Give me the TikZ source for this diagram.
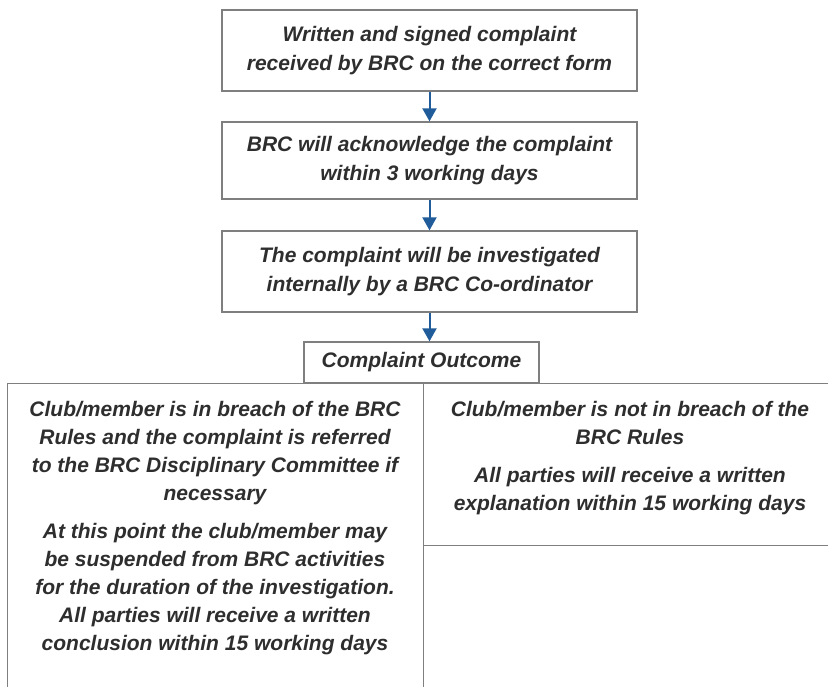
\documentclass[tikz,border=0pt]{standalone}
\usepackage{fontspec}
\setmainfont{Liberation Sans}
\usetikzlibrary{arrows.meta}
\definecolor{txtc}{HTML}{2E2E2E}
\definecolor{edgec}{HTML}{7F7F7F}
\definecolor{arrc}{HTML}{1F5C99}
\begin{document}
\begin{tikzpicture}[x=1pt,y=-1pt,
  boxfont/.style={font=\fontsize{21}{29}\selectfont\bfseries\itshape},
  lowfont/.style={font=\fontsize{21}{28}\selectfont\bfseries\itshape},
  box/.style={draw=edgec,line width=1.3pt,fill=white,inner sep=0pt,align=center,text=txtc,boxfont},
  txt/.style={inner sep=0pt,align=center,text=txtc,lowfont},
  arr/.style={draw=arrc,line width=2pt,-{Triangle[width=14pt,length=13pt]}}]
\useasboundingbox (0,0) rectangle (828,687);
\clip (0,0) rectangle (828,687);
\fill[white] (0,0) rectangle (828,687);

\node[box,minimum width=415pt,minimum height=81pt] (b1) at (429.5,50.5)
  {Written and signed complaint\\received by BRC on the correct form};
\node[box,minimum width=415pt,minimum height=77pt] (b2) at (429.5,160.5)
  {BRC will acknowledge the complaint\\within 3 working days};
\node[box,minimum width=415pt,minimum height=81pt] (b3) at (429.5,271.5)
  {The complaint will be investigated\\internally by a BRC Co-ordinator};
\node[box,minimum width=235pt,minimum height=41pt] (out) at (421.5,362.5)
  {Complaint Outcome};

\node[box,minimum width=416pt,minimum height=162pt,anchor=north west] (rb) at (422,383) {};
\node[box,minimum width=416pt,minimum height=340pt,anchor=north west] (lb) at (7,383) {};

\node[txt,anchor=north] (lt) at (215,401)
  {Club/member is in breach of the BRC\\Rules and the complaint is referred\\to the BRC Disciplinary Committee if\\necessary\\[10pt]
   At this point the club/member may\\be suspended from BRC activities\\for the duration of the investigation.\\All parties will receive a written\\conclusion within 15 working days};
\node[txt,anchor=north] (rt) at (630,401)
  {Club/member is not in breach of the\\BRC Rules\\[10pt]All parties will receive a written\\explanation within 15 working days};

\draw[arr] (b1) -- (b2);
\draw[arr] (b2) -- (b3);
\draw[arr] (b3.south) -- (b3.south |- out.north);
\end{tikzpicture}
\end{document}
